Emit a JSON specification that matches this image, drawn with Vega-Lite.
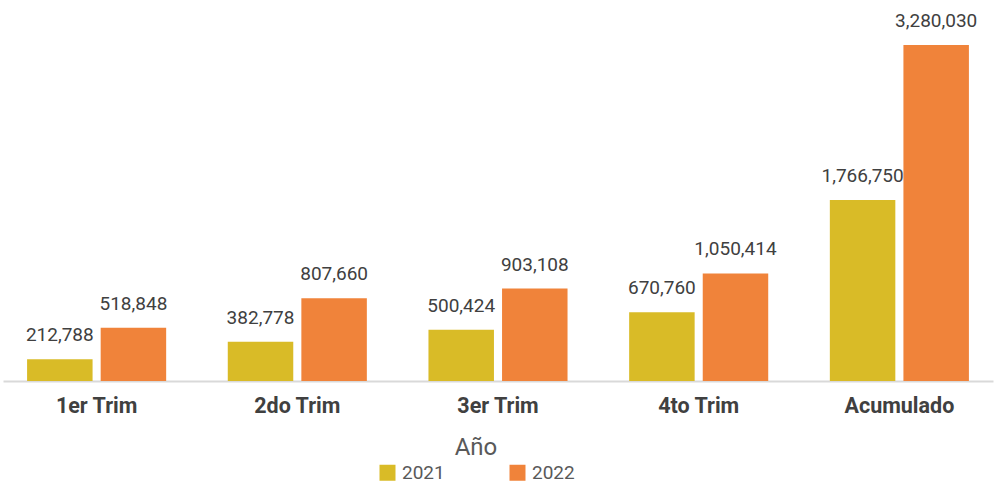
{
  "$schema": "https://vega.github.io/schema/vega-lite/v6.json",
  "autosize": "none",
  "width": 990,
  "height": 381,
  "padding": {"left": 3, "top": 0, "right": 7, "bottom": 102},
  "background": "white",
  "config": {"view": {"stroke": null}, "font": "Roboto"},
  "data": {
    "values": [
      {"periodo": "1er Trim", "anio": "2021", "valor": 212788},
      {"periodo": "1er Trim", "anio": "2022", "valor": 518848},
      {"periodo": "2do Trim", "anio": "2021", "valor": 382778},
      {"periodo": "2do Trim", "anio": "2022", "valor": 807660},
      {"periodo": "3er Trim", "anio": "2021", "valor": 500424},
      {"periodo": "3er Trim", "anio": "2022", "valor": 903108},
      {"periodo": "4to Trim", "anio": "2021", "valor": 670760},
      {"periodo": "4to Trim", "anio": "2022", "valor": 1050414},
      {"periodo": "Acumulado", "anio": "2021", "valor": 1766750},
      {"periodo": "Acumulado", "anio": "2022", "valor": 3280030}
    ]
  },
  "encoding": {
    "x": {
      "field": "periodo", "type": "nominal", "sort": null,
      "scale": {"paddingInner": 0.307, "paddingOuter": 0.12},
      "axis": {
        "title": null, "labelAngle": 0, "ticks": false,
        "domainColor": "#D9D9D9", "domainWidth": 2,
        "labelFont": "Roboto", "labelFontWeight": "bold", "labelFontSize": 21.5,
        "labelColor": "#404040", "labelPadding": 14
      }
    },
    "xOffset": {"field": "anio", "type": "nominal", "scale": {"paddingInner": 0.11}},
    "y": {
      "field": "valor", "type": "quantitative",
      "scale": {"domain": [0, 3720000], "nice": false},
      "axis": null
    }
  },
  "layer": [
    {
      "mark": {"type": "bar"},
      "encoding": {
        "color": {
          "field": "anio", "type": "nominal",
          "scale": {"domain": ["2021", "2022"], "range": ["#D9BB27", "#F0833A"]},
          "legend": {
            "title": "Año", "orient": "none", "direction": "horizontal",
            "legendX": 375, "legendY": 436,
            "titleOrient": "top", "titleAnchor": "middle",
            "titleFont": "Roboto", "titleFontSize": 24, "titleFontWeight": "normal",
            "titleColor": "#595959", "titlePadding": 3,
            "symbolType": "square", "symbolSize": 256, "symbolStrokeWidth": 0,
            "labelFont": "Roboto", "labelFontSize": 19, "labelColor": "#595959",
            "labelOffset": 5, "columnPadding": 63
          }
        }
      }
    },
    {
      "mark": {"type": "text", "baseline": "alphabetic", "dy": -18, "fontSize": 19, "color": "#404040", "font": "Roboto"},
      "encoding": {
        "text": {"field": "valor", "type": "quantitative", "format": ",d"}
      }
    }
  ]
}
